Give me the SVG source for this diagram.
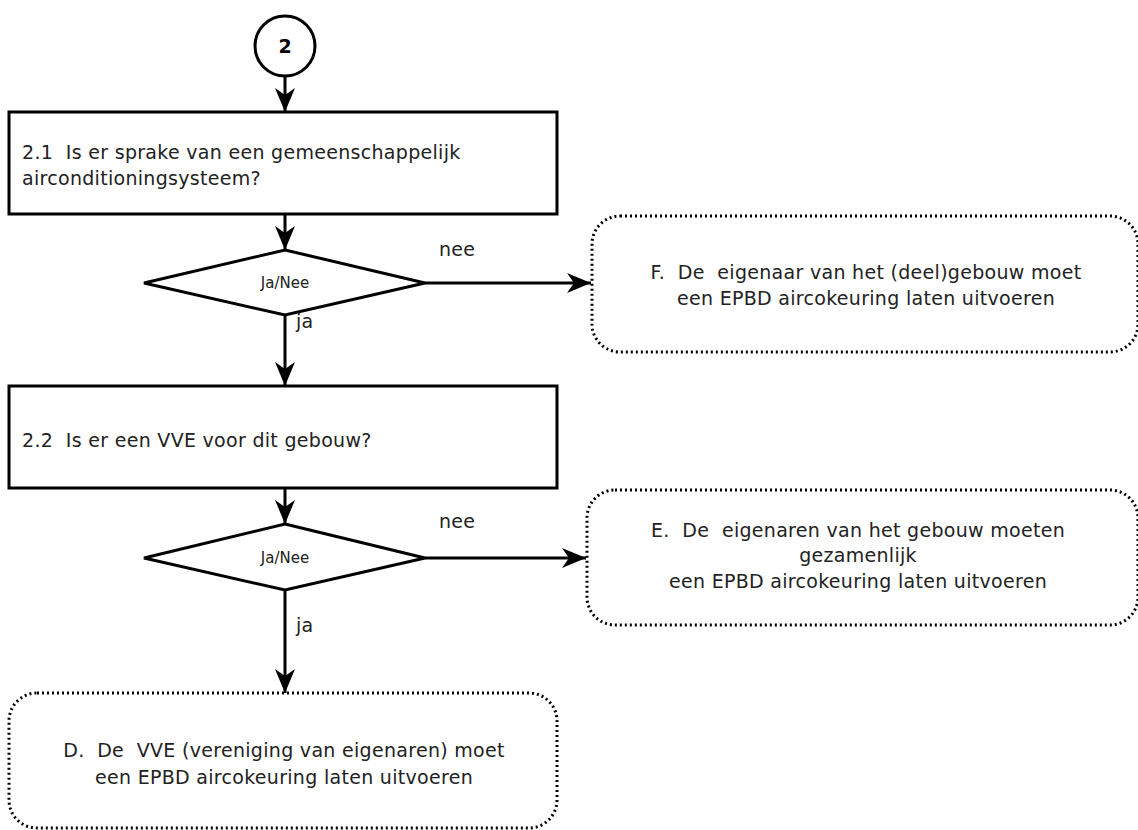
<svg xmlns="http://www.w3.org/2000/svg" width="1138" height="830" viewBox="0 0 1138 830" xml:space="preserve">
<defs>
<marker id="arr" viewBox="0 -11 24 22" refX="24" refY="0" markerWidth="24" markerHeight="22" orient="auto" markerUnits="userSpaceOnUse">
<path d="M0,-10 L24,0 L0,10 L7,0 z" fill="#000"/>
</marker>
<style>
.solid{fill:#fff;stroke:#000;stroke-width:3}
.dot{fill:#fff;stroke:#000;stroke-width:3;stroke-dasharray:2 3}
.t{font-family:"DejaVu Sans","Liberation Sans",sans-serif;font-size:19px;letter-spacing:0.3px;fill:#222;white-space:pre}
.c{text-anchor:middle}
.s{font-family:"DejaVu Sans","Liberation Sans",sans-serif;font-size:15px;fill:#222;text-anchor:middle}
.b{font-family:"DejaVu Sans","Liberation Sans",sans-serif;font-size:19px;font-weight:bold;fill:#000;text-anchor:middle}
.e{fill:none;stroke:#000;stroke-width:3;marker-end:url(#arr)}
</style>
</defs>
<rect width="1138" height="830" fill="#fff"/>
<g id="connectors">
<line class="e" x1="285" y1="77" x2="285" y2="112"/>
<line class="e" x1="285" y1="214" x2="285" y2="250"/>
<line class="e" x1="425" y1="283" x2="591" y2="283"/>
<line class="e" x1="285" y1="315" x2="285" y2="386"/>
<line class="e" x1="285" y1="488" x2="285" y2="524"/>
<line class="e" x1="425" y1="558" x2="586" y2="558"/>
<line class="e" x1="285" y1="590" x2="285" y2="693"/>
<text class="t" x="439" y="256">nee</text>
<text class="t" x="296" y="328">ja</text>
<text class="t" x="439" y="528">nee</text>
<text class="t" x="296" y="632">ja</text>
</g>
<g id="start">
<circle cx="285" cy="46" r="30" class="solid"/>
<text class="b" x="285" y="53">2</text>
</g>
<g id="q21">
<rect x="9" y="112" width="548" height="102" class="solid"/>
<text class="t" x="22" y="159">2.1  Is er sprake van een gemeenschappelijk</text>
<text class="t" x="22" y="185">airconditioningsysteem?</text>
</g>
<g id="d1">
<polygon points="285,250 425,283 285,315 144,283" class="solid"/>
<text class="s" x="285" y="288">Ja/Nee</text>
</g>
<g id="F">
<rect x="592" y="216" width="546" height="136" rx="28" class="dot"/>
<text class="t c" x="866" y="279">F.  De  eigenaar van het (deel)gebouw moet</text>
<text class="t c" x="866" y="305">een EPBD aircokeuring laten uitvoeren</text>
</g>
<g id="q22">
<rect x="9" y="386" width="548" height="102" class="solid"/>
<text class="t" x="22" y="447">2.2  Is er een VVE voor dit gebouw?</text>
</g>
<g id="d2">
<polygon points="285,524 425,558 285,590 144,558" class="solid"/>
<text class="s" x="285" y="563">Ja/Nee</text>
</g>
<g id="E">
<rect x="587" y="490" width="551" height="135" rx="28" class="dot"/>
<text class="t c" x="858" y="537">E.  De  eigenaren van het gebouw moeten</text>
<text class="t c" x="858" y="562">gezamenlijk</text>
<text class="t c" x="858" y="588">een EPBD aircokeuring laten uitvoeren</text>
</g>
<g id="D">
<rect x="9" y="693" width="548" height="135" rx="28" class="dot"/>
<text class="t c" x="284" y="757">D.  De  VVE (vereniging van eigenaren) moet</text>
<text class="t c" x="284" y="784">een EPBD aircokeuring laten uitvoeren</text>
</g>
</svg>
